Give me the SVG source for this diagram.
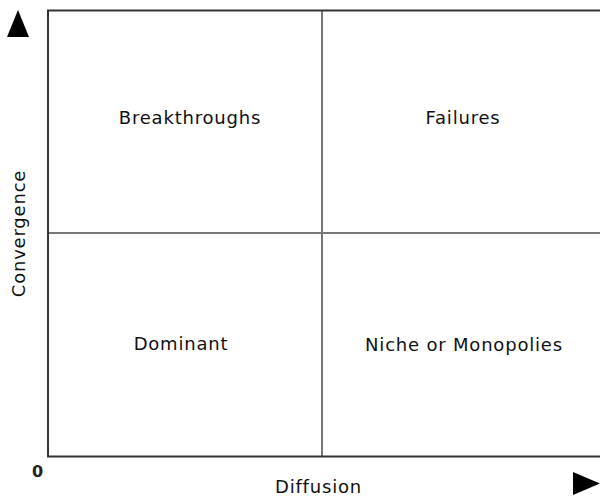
<svg xmlns="http://www.w3.org/2000/svg" width="600" height="497" viewBox="0 0 600 497">
<style>
.lbl{font-family:"DejaVu Sans",Verdana,sans-serif;font-size:18px;letter-spacing:0.8px;fill:#111;text-anchor:middle}
.axis{stroke:#333;stroke-width:2;fill:none}
.grid{stroke:#777;stroke-width:2;fill:none}
.arrow{fill:#000}
</style>
<rect width="600" height="497" fill="#fff"/>
<g id="connectors">
<line class="grid" x1="322" y1="10" x2="322" y2="457"/>
<line class="grid" x1="48" y1="233" x2="600" y2="233"/>
<polyline class="axis" points="600,10.5 48,10.5 48,456.5 600,456.5" stroke="#444"/>
<polygon class="arrow" points="18,10 29,37 7,37"/>
<polygon class="arrow" points="573,472 600,483.5 573,495"/>
</g>
<g id="breakthroughs"><text class="lbl" x="190" y="124">Breakthroughs</text></g>
<g id="failures"><text class="lbl" x="463" y="124">Failures</text></g>
<g id="dominant"><text class="lbl" x="181" y="350">Dominant</text></g>
<g id="niche"><text class="lbl" x="464" y="351">Niche or Monopolies</text></g>
<g id="axis-y"><text class="lbl" transform="translate(25,233.5) rotate(-90)">Convergence</text></g>
<g id="axis-x"><text class="lbl" x="318.5" y="493">Diffusion</text></g>
<g id="origin"><text x="37.5" y="477" style="font-family:'DejaVu Sans',sans-serif;font-size:16px;font-weight:bold;fill:#222;text-anchor:middle">0</text></g>
</svg>
